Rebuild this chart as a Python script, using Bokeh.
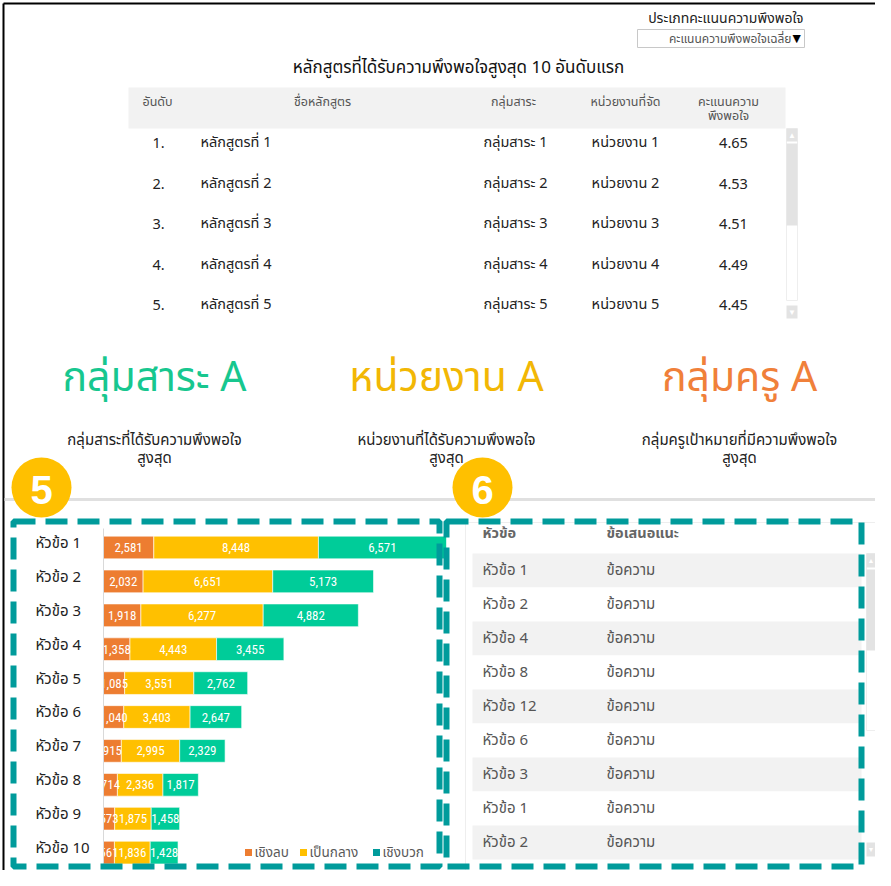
from bokeh.plotting import figure
from bokeh.models import Range1d, ColumnDataSource
from bokeh.core.properties import value
from bokeh.embed import file_html
from bokeh.resources import INLINE

# ---------------- data ----------------
dropdown_label = "ประเภทคะแนนความพึงพอใจ"
dropdown_value = "คะแนนความพึงพอใจเฉลี่ย"
table_title = "หลักสูตรที่ได้รับความพึงพอใจสูงสุด 10 อันดับแรก"
table_headers = ["อันดับ", "ชื่อหลักสูตร", "กลุ่มสาระ", "หน่วยงานที่จัด", "คะแนนความ\nพึงพอใจ"]
ranks = ["1.", "2.", "3.", "4.", "5."]
courses = ["หลักสูตรที่ 1", "หลักสูตรที่ 2", "หลักสูตรที่ 3", "หลักสูตรที่ 4", "หลักสูตรที่ 5"]
groups = ["กลุ่มสาระ 1", "กลุ่มสาระ 2", "กลุ่มสาระ 3", "กลุ่มสาระ 4", "กลุ่มสาระ 5"]
units = ["หน่วยงาน 1", "หน่วยงาน 2", "หน่วยงาน 3", "หน่วยงาน 4", "หน่วยงาน 5"]
scores = [4.65, 4.53, 4.51, 4.49, 4.45]

kpi_titles = ["กลุ่มสาระ A", "หน่วยงาน A", "กลุ่มครู A"]
kpi_subs = ["กลุ่มสาระที่ได้รับความพึงพอใจ\nสูงสุด", "หน่วยงานที่ได้รับความพึงพอใจ\nสูงสุด",
            "กลุ่มครูเป้าหมายที่มีความพึงพอใจ\nสูงสุด"]

topics = ["หัวข้อ 1", "หัวข้อ 2", "หัวข้อ 3", "หัวข้อ 4", "หัวข้อ 5",
          "หัวข้อ 6", "หัวข้อ 7", "หัวข้อ 8", "หัวข้อ 9", "หัวข้อ 10"]
negative = [2581, 2032, 1918, 1358, 1085, 1040, 915, 714, 573, 561]
neutral = [8448, 6651, 6277, 4443, 3551, 3403, 2995, 2336, 1875, 1836]
positive = [6571, 5173, 4882, 3455, 2762, 2647, 2329, 1817, 1458, 1428]
legend_labels = ["เชิงลบ", "เป็นกลาง", "เชิงบวก"]

rec_headers = ["หัวข้อ", "ข้อเสนอแนะ"]
rec_topics = ["หัวข้อ 1", "หัวข้อ 2", "หัวข้อ 4", "หัวข้อ 8", "หัวข้อ 12",
              "หัวข้อ 6", "หัวข้อ 3", "หัวข้อ 1", "หัวข้อ 2"]
rec_texts = ["ข้อความ"] * 9

# ---------------- style ----------------
THAI = "Tahoma, 'Noto Sans Thai', 'Noto Sans Thai UI', Garuda, Loma, sans-serif"
NUM = "'Liberation Sans Narrow', 'Roboto Condensed', Roboto, sans-serif"
ORANGE, YELLOW, GREEN = "#ED7D31", "#FFC000", "#00CC99"
TEAL = "#009B9B"
KPI_COLORS = ["#17C78F", "#F2B705", "#F0803A"]

W, H = 875, 870
p = figure(width=W, height=H, x_range=Range1d(0, W), y_range=Range1d(H, 0),
           toolbar_location=None, output_backend="svg", min_border=0)
p.axis.visible = False
p.grid.visible = False
p.outline_line_color = None
p.background_fill_color = "white"


def txt(x, y, s, size, color="#222222", align="left", baseline="middle", font=THAI, style="normal"):
    p.text(x=[x], y=[y], text=[s], text_font=value(font), text_font_size=f"{size}px",
           text_color=color, text_align=align, text_baseline=baseline, text_font_style=style)


def box(l, r, t, b, fill=None, line=None, lw=1, dash="solid"):
    p.quad(left=[l], right=[r], top=[t], bottom=[b], fill_color=fill,
           fill_alpha=1 if fill else 0, line_color=line, line_width=lw, line_dash=dash)


# outer frame
p.line(x=[3, 3], y=[3, 870], line_color="black", line_width=2)
p.line(x=[3, 875], y=[3, 3], line_color="black", line_width=2)

# dropdown
txt(803, 18, dropdown_label, 14, "#222222", align="right")
box(637, 804, 29, 47, fill="white", line="#c8c8c8")
txt(791, 38, dropdown_value, 12, "#555555", align="right")
txt(803, 38, "▼", 14, "#000000", align="right")

# top table
txt(458, 67, table_title, 17, "#111111", align="center")
box(128, 785, 87, 128, fill="#F2F2F2")
hx = [142, 322, 513, 625, 728]
hal = ["left", "center", "center", "center", "center"]
for x, h, a in zip(hx, table_headers, hal):
    lines = h.split("\n")
    for k, ln in enumerate(lines):
        txt(x, 102 + 14 * k, ln, 12.5, "#555555", align=a)

row_y = [142.5 + 40.6 * i for i in range(len(ranks))]
tsrc = ColumnDataSource(dict(y=row_y, rank=ranks, course=courses, group=groups, unit=units,
                             score=[f"{s:.2f}" for s in scores],
                             xr=[158] * len(ranks), xc=[200] * len(ranks), xg=[515] * len(ranks),
                             xu=[625] * len(ranks), xs=[733] * len(ranks)))
for col, xcol, al in [("rank", "xr", "center"), ("course", "xc", "left"), ("group", "xg", "center"),
                      ("unit", "xu", "center"), ("score", "xs", "center")]:
    p.text(x=xcol, y="y", text=col, source=tsrc, text_font=value(THAI), text_font_size="14.5px",
           text_color="#222222", text_align=al, text_baseline="middle")

# top scrollbar
box(786, 797, 128, 300, fill="white", line="#EEEEEE")
box(786, 797, 128, 141, fill="#E3E3E3")
box(786, 797, 143, 225, fill="#E3E3E3")
box(786, 797, 305, 318, fill="#E3E3E3")
txt(791.5, 135, "▲", 8, "white", align="center")
txt(791.5, 312, "▼", 8, "white", align="center")

# KPI cards
for x, t, s, c in zip([154, 446, 739], kpi_titles, kpi_subs, KPI_COLORS):
    txt(x, 377, t, 41, c, align="center")
    for k, ln in enumerate(s.split("\n")):
        txt(x, 440 + 18 * k, ln, 15, "#222222", align="center")

# separator
p.line(x=[4, 875], y=[499, 499], line_color="#E0E0E0", line_width=3)

# ---------------- bar chart ----------------
X0, X1, V1 = 103.0, 446.0, 17600.0      # pixel of value 0, pixel of value V1
kx = (X1 - X0) / V1
p.extra_x_ranges = {"bar": Range1d(-X0 / kx, -X0 / kx + W / kx)}
Y0, DY = 547.0, 33.9                     # pixel of first category, spacing
p.extra_y_ranges = {"cat": Range1d((H - Y0) / DY, (0 - Y0) / DY)}

idx = list(range(len(topics)))
neu_end = [a + b for a, b in zip(negative, neutral)]
tot = [a + b for a, b in zip(neu_end, positive)]
bsrc = ColumnDataSource(dict(
    idx=idx, neg=negative, neu_end=neu_end, tot=tot,
    neg_mid=[a / 2 for a in negative],
    neu_mid=[a + b / 2 for a, b in zip(negative, neutral)],
    pos_mid=[a + b / 2 for a, b in zip(neu_end, positive)],
    neg_lbl=[f"{v:,}" for v in negative], neu_lbl=[f"{v:,}" for v in neutral],
    pos_lbl=[f"{v:,}" for v in positive]))
for l, r, c in [(0, "neg", ORANGE), ("neg", "neu_end", YELLOW), ("neu_end", "tot", GREEN)]:
    p.hbar(y="idx", left=l, right=r, height=0.67, source=bsrc, fill_color=c, line_color="white",
           line_width=0.6, x_range_name="bar", y_range_name="cat")
for xm, lb in [("neg_mid", "neg_lbl"), ("neu_mid", "neu_lbl"), ("pos_mid", "pos_lbl")]:
    p.text(x=xm, y="idx", text=lb, source=bsrc, x_range_name="bar", y_range_name="cat",
           text_font=value(NUM), text_font_size="13px", text_color="white",
           text_align="center", text_baseline="middle")

# clip area left of the axis
box(17, 102.5, 528, 866, fill="white")
p.line(x=[103, 103], y=[528, 866], line_color="#D9D9D9", line_width=1)
p.text(x=[35] * len(topics), y=[i - 0.12 for i in idx], text=topics, y_range_name="cat",
       text_font=value(THAI), text_font_size="15px",
       text_color="#222222", text_align="left", text_baseline="middle")

# legend
for x, lab, c in zip([245, 300, 373], legend_labels, [ORANGE, YELLOW, TEAL]):
    p.scatter(x=[x + 3], y=[852], marker="square", size=7, fill_color=c, line_color=None)
    txt(x + 9, 852, lab, 13.5, "#595959")

# ---------------- recommendations table ----------------
box(465, 875, 522, 870, line="#EEEEEE")
txt(482, 533, rec_headers[0], 14.5, "#666666", style="bold")
txt(606, 533, rec_headers[1], 14.5, "#666666", style="bold")
RT, RH = 553.0, 34.0
rtop = [RT + RH * i for i in range(len(rec_topics))]
rsrc = ColumnDataSource(dict(top=rtop, bottom=[t + RH for t in rtop], mid=[t + RH / 2 for t in rtop],
                             topic=rec_topics, txt=rec_texts,
                             fill=["#F2F2F2" if i % 2 == 0 else "white" for i in range(len(rec_topics))]))
p.quad(left=472, right=861, top="top", bottom="bottom", source=rsrc, fill_color="fill", line_color=None)
p.text(x=482, y="mid", text="topic", source=rsrc, text_font=value(THAI), text_font_size="15px",
       text_color="#555555", text_baseline="middle")
p.text(x=606, y="mid", text="txt", source=rsrc, text_font=value(THAI), text_font_size="15px",
       text_color="#555555", text_baseline="middle")

box(866, 875, 553, 730, fill="white", line="#EEEEEE")
box(866, 875, 553, 567, fill="#E3E3E3")
box(866, 875, 569, 650, fill="#E3E3E3")
box(866, 875, 842, 856, fill="#E3E3E3")
txt(870.5, 560, "▲", 7, "white", align="center")
txt(870.5, 849, "▼", 7, "white", align="center")

# dashed panels
box(13, 439, 521, 866, line=TEAL, lw=6, dash="22 10")
box(446, 861, 521, 866, line=TEAL, lw=6, dash="22 10")

# numbered badges
for x, n in [(41, "5"), (482, "6")]:
    p.scatter(x=[x], y=[487], marker="circle", size=60, fill_color=YELLOW, line_color=None)
    txt(x, 489, n, 40, "white", align="center", font="'Liberation Sans', Arial, sans-serif", style="bold")

open("out.html", "w").write(file_html(p, INLINE))
